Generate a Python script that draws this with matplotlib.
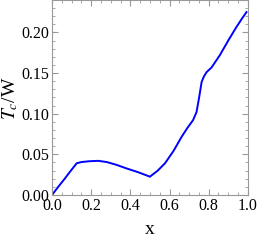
import numpy as np
import matplotlib
matplotlib.use('Agg')
import matplotlib.pyplot as plt
from matplotlib.ticker import MultipleLocator

# curve
xs = [0, 0.03, 0.06, 0.09, 0.126, 0.15, 0.19, 0.236, 0.28, 0.33, 0.38, 0.44, 0.5,
      0.54, 0.577, 0.62, 0.662, 0.69, 0.72, 0.738, 0.752, 0.764, 0.776, 0.789,
      0.815, 0.857, 0.9, 0.94, 0.97, 0.993]
tc = [0, 0.0095, 0.0185, 0.028, 0.039, 0.0405, 0.0415, 0.042, 0.0405, 0.037, 0.0327,
      0.028, 0.0225, 0.030, 0.039, 0.054, 0.0716, 0.082, 0.092, 0.102, 0.121, 0.139,
      0.146, 0.151, 0.157, 0.172, 0.19, 0.206, 0.217, 0.225]

plt.rcParams['font.family'] = ['Liberation Serif', 'DejaVu Serif']
plt.rcParams['mathtext.fontset'] = 'stix'

fig = plt.figure(figsize=(2.58, 2.41), dpi=100)
ax = fig.add_axes([0.2016, 0.191, 0.759, 0.807])

ax.plot(xs, tc, color='#0000ff', linewidth=1.4)

ax.set_xlim(0, 1)
ax.set_ylim(0, 0.2393)
ax.xaxis.set_major_locator(MultipleLocator(0.2))
ax.xaxis.set_minor_locator(MultipleLocator(0.05))
ax.yaxis.set_major_locator(MultipleLocator(0.05))
ax.yaxis.set_minor_locator(MultipleLocator(0.01))
ax.xaxis.set_major_formatter(plt.FuncFormatter(lambda v, p: "%.1f" % v))
ax.yaxis.set_major_formatter(plt.FuncFormatter(lambda v, p: "%.2f" % v))

for s in ax.spines.values():
    s.set_color('#999999')
    s.set_linewidth(0.8)
ax.tick_params(which='both', direction='in', top=True, right=True, color='#999999',
               labelsize=11.5, pad=2)
ax.tick_params(which='major', length=4)
ax.tick_params(which='minor', length=2)

ax.set_xlabel('x', fontsize=14, labelpad=5)
ax.set_ylabel(r'$T_c$/W', fontsize=14, labelpad=1)

plt.savefig('out.png', dpi=100)
